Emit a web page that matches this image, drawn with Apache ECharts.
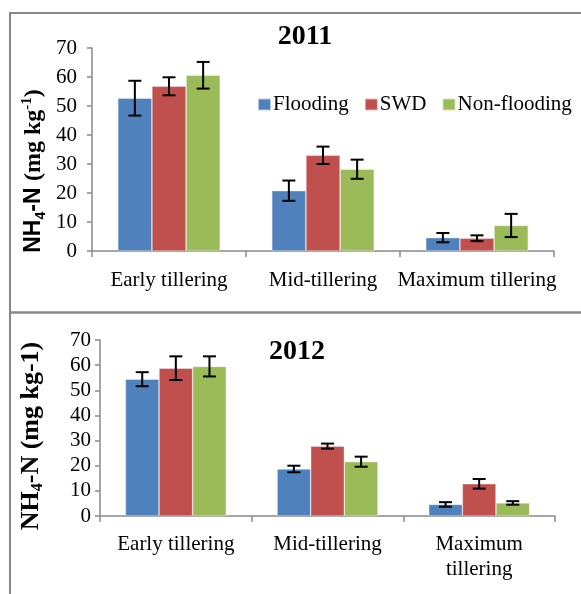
<!DOCTYPE html>
<html>
<head>
<meta charset="utf-8">
<script src="https://cdn.jsdelivr.net/npm/echarts@6/dist/echarts.min.js"></script>
<style>
  html, body { margin: 0; padding: 0; background: #fff; }
  #chart { width: 581px; height: 594px; }
</style>
</head>
<body>
<div id="chart"></div>
<script>
// Growth stages (2012 uses a wrapped label for the last stage)
const stages2011 = ['Early tillering', 'Mid-tillering', 'Maximum tillering'];
const stages2012 = ['Early tillering', 'Mid-tillering', 'Maximum\ntillering'];
const treatments = ['Flooding', 'SWD', 'Non-flooding'];
const yTicks = [0, 10, 20, 30, 40, 50, 60, 70];

// NH4-N means (mg kg-1) and their error bar half-widths
const flooding2011 = [52.7, 20.8, 4.6];
const swd2011 = [56.8, 33.0, 4.4];
const nonFlooding2011 = [60.6, 28.2, 8.8];
const floodingErr2011 = [6.0, 3.5, 1.6];
const swdErr2011 = [3.1, 3.0, 1.0];
const nonFloodingErr2011 = [4.6, 3.3, 4.0];

const flooding2012 = [54.4, 18.7, 4.6];
const swd2012 = [58.8, 27.8, 12.8];
const nonFlooding2012 = [59.5, 21.6, 5.2];
const floodingErr2012 = [2.8, 1.3, 0.9];
const swdErr2012 = [4.7, 1.0, 1.9];
const nonFloodingErr2012 = [4.0, 2.0, 0.7];

const colors = ['#4F81BD', '#C0504D', '#9BBB59'];
const SERIF = '"Liberation Serif", "Times New Roman", serif';
const SANS = '"Liberation Sans", Arial, sans-serif';
const AXIS_GRAY = '#8a8a8a';
const GROUP_SHARE = 0.665; // share of each category band filled by the bar group

const chart = echarts.init(document.getElementById('chart'), null, { renderer: 'canvas' });

function xAxisFor(gridIndex, cats, margin) {
  return {
    type: 'category', gridIndex, data: cats,
    axisLine: { lineStyle: { color: AXIS_GRAY, width: 1.5 } },
    axisTick: { show: true, length: 6, lineStyle: { color: AXIS_GRAY, width: 1.5 } },
    axisLabel: { color: '#000', fontFamily: SERIF, fontSize: 21, margin, lineHeight: 25, interval: 0 },
    splitLine: { show: false }
  };
}
function yAxisFor(gridIndex, fontSize, margin) {
  return {
    type: 'value', gridIndex, min: yTicks[0], max: yTicks[yTicks.length - 1], interval: 10,
    axisLine: { show: true, lineStyle: { color: AXIS_GRAY, width: 1.5 } },
    axisTick: { show: true, length: 5, lineStyle: { color: AXIS_GRAY, width: 1.5 } },
    axisLabel: { color: '#000', fontFamily: SERIF, fontSize, margin },
    splitLine: { show: false }
  };
}

function barSeries(name, data, axisIdx, colorIdx) {
  return {
    name, type: 'bar', data, xAxisIndex: axisIdx, yAxisIndex: axisIdx,
    barGap: '0%', barCategoryGap: ((1 - GROUP_SHARE) * 100).toFixed(1) + '%',
    itemStyle: { color: colors[colorIdx], borderColor: 'rgba(255,255,255,0.6)', borderWidth: 0.6 },
    z: 2
  };
}

// Error bars drawn through the axis scale, offset to sit on their bar
function errorSeries(values, errs, axisIdx, slot) {
  return {
    type: 'custom', xAxisIndex: axisIdx, yAxisIndex: axisIdx, z: 10,
    data: values.map((v, i) => [i, v, errs[i]]),
    renderItem(params, api) {
      const i = api.value(0), v = api.value(1), e = api.value(2);
      const band = api.size([1, 0])[0];
      const w = band * GROUP_SHARE / 3;
      const hi = api.coord([i, v + e]);
      const lo = api.coord([i, v - e]);
      const x = hi[0] + (slot - 1) * w;
      const cap = 6.5;
      const style = { stroke: '#000', lineWidth: 2 };
      return {
        type: 'group',
        children: [
          { type: 'line', shape: { x1: x, y1: hi[1], x2: x, y2: lo[1] }, style },
          { type: 'line', shape: { x1: x - cap, y1: hi[1], x2: x + cap, y2: hi[1] }, style },
          { type: 'line', shape: { x1: x - cap, y1: lo[1], x2: x + cap, y2: lo[1] }, style }
        ]
      };
    }
  };
}

const option = {
  animation: false,
  backgroundColor: '#fff',
  grid: [
    { left: 92, right: 27, top: 48, height: 203 },
    { left: 100, right: 26, top: 340, height: 176 }
  ],
  legend: {
    data: treatments, left: 252, top: 89,
    itemWidth: 13, itemHeight: 12, itemGap: 15,
    icon: 'rect',
    textStyle: { color: '#000', fontFamily: SERIF, fontSize: 21, padding: [0, 0, 0, -3] }
  },
  xAxis: [xAxisFor(0, stages2011, 17), xAxisFor(1, stages2012, 16)],
  yAxis: [yAxisFor(0, 21, 15), yAxisFor(1, 21, 9)],
  series: [
    barSeries('Flooding', flooding2011, 0, 0),
    barSeries('SWD', swd2011, 0, 1),
    barSeries('Non-flooding', nonFlooding2011, 0, 2),
    barSeries('Flooding', flooding2012, 1, 0),
    barSeries('SWD', swd2012, 1, 1),
    barSeries('Non-flooding', nonFlooding2012, 1, 2),
    errorSeries(flooding2011, floodingErr2011, 0, 0),
    errorSeries(swd2011, swdErr2011, 0, 1),
    errorSeries(nonFlooding2011, nonFloodingErr2011, 0, 2),
    errorSeries(flooding2012, floodingErr2012, 1, 0),
    errorSeries(swd2012, swdErr2012, 1, 1),
    errorSeries(nonFlooding2012, nonFloodingErr2012, 1, 2)
  ],
  graphic: [
    // panel frames
    { type: 'line', shape: { x1: 10, y1: 13, x2: 581, y2: 13 }, style: { stroke: '#888', lineWidth: 2 } },
    { type: 'line', shape: { x1: 10, y1: 312.5, x2: 581, y2: 312.5 }, style: { stroke: '#888', lineWidth: 2.5 } },
    { type: 'line', shape: { x1: 10, y1: 12, x2: 10, y2: 594 }, style: { stroke: '#888', lineWidth: 2 } },
    // panel titles
    { type: 'text', x: 305, y: 37, style: { text: '2011', fontFamily: SERIF, fontWeight: 'bold', fontSize: 28, fill: '#000', align: 'center', verticalAlign: 'middle' } },
    { type: 'text', x: 297, y: 352, style: { text: '2012', fontFamily: SERIF, fontWeight: 'bold', fontSize: 28, fill: '#000', align: 'center', verticalAlign: 'middle' } },
    // y-axis titles
    {
      type: 'text', x: 34, y: 171, rotation: Math.PI / 2,
      style: {
        text: '{a|NH}{s|4}{a|-N }{b|(mg kg}{p|-1}{b|)}',
        align: 'center', verticalAlign: 'middle', fill: '#000',
        rich: {
          a: { fontFamily: SANS, fontWeight: 'bold', fontSize: 23, lineHeight: 28, verticalAlign: 'middle' },
          s: { fontFamily: SANS, fontWeight: 'bold', fontSize: 14, lineHeight: 14, verticalAlign: 'bottom' },
          b: { fontFamily: SERIF, fontWeight: 'bold', fontSize: 24, lineHeight: 28, verticalAlign: 'middle' },
          p: { fontFamily: SERIF, fontWeight: 'bold', fontSize: 15, lineHeight: 15, verticalAlign: 'top' }
        }
      }
    },
    {
      type: 'text', x: 31, y: 436, rotation: Math.PI / 2,
      style: {
        text: '{a|NH}{s|4}{a|-N (mg kg-1)}',
        align: 'center', verticalAlign: 'middle', fill: '#000',
        rich: {
          a: { fontFamily: SERIF, fontWeight: 'bold', fontSize: 26, lineHeight: 30, verticalAlign: 'middle' },
          s: { fontFamily: SERIF, fontWeight: 'bold', fontSize: 16, lineHeight: 16, verticalAlign: 'bottom' }
        }
      }
    }
  ]
};

chart.setOption(option);
</script>
</body>
</html>
